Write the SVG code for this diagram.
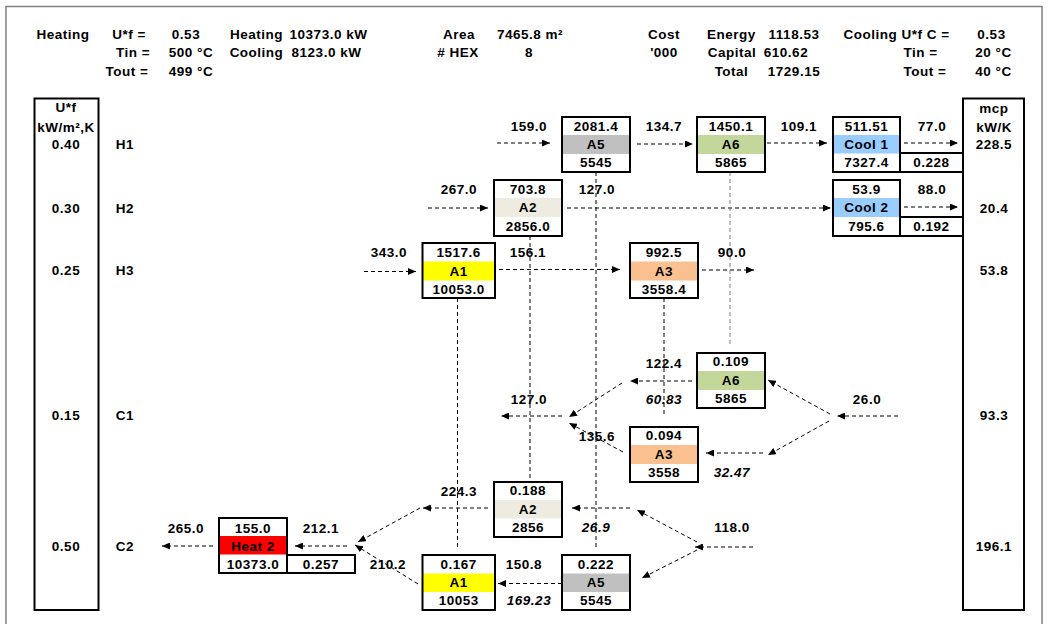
<svg xmlns="http://www.w3.org/2000/svg" width="1049" height="624" viewBox="0 0 1049 624">
<style>
.t{font-family:"Liberation Sans",Arial,sans-serif;font-weight:bold;font-size:13.5px;letter-spacing:0.5px;text-anchor:middle;fill:#000}
.i{font-style:italic}
.bx{fill:none;stroke:#000;stroke-width:2}
.c{fill:none;stroke:#000;stroke-width:1;stroke-dasharray:4 3}
.g{stroke:#808080}
.a{marker-end:url(#ah)}
.gray{fill:#C0C0C0}.green{fill:#C4D79B}.beige{fill:#EEECE1}.yel{fill:#FFFF00}.peach{fill:#FAC090}.blue{fill:#99CCFF}.red{fill:#FF0000}
</style>
<defs>
<marker id="ah" markerUnits="userSpaceOnUse" markerWidth="8" markerHeight="7" refX="8" refY="3.5" orient="auto"><path d="M0,0L8,3.5L0,7z" fill="#000"/></marker>
</defs>
<rect x="0" y="0" width="1049" height="624" fill="#fff"/>
<rect x="6" y="6.5" width="1036" height="630" fill="none" stroke="#808080" stroke-width="1.5"/>

<g id="header" class="t">
<text x="63" y="39">Heating</text>
<text x="129" y="39">U*f =</text>
<text x="186" y="39">0.53</text>
<text x="256.5" y="39">Heating</text>
<text x="328.5" y="39">10373.0 kW</text>
<text x="459" y="39">Area</text>
<text x="530" y="39">7465.8 m²</text>
<text x="664" y="39">Cost</text>
<text x="731.5" y="39">Energy</text>
<text x="794" y="39">1118.53</text>
<text x="896.5" y="39">Cooling U*f C =</text>
<text x="991.5" y="39">0.53</text>
<text x="133" y="57">Tin =</text>
<text x="191" y="57">500 °C</text>
<text x="256.5" y="57">Cooling</text>
<text x="326.5" y="57">8123.0 kW</text>
<text x="458" y="57"># HEX</text>
<text x="529" y="57">8</text>
<text x="664" y="57">'000</text>
<text x="732" y="57">Capital</text>
<text x="786" y="57">610.62</text>
<text x="920.5" y="57">Tin =</text>
<text x="993.5" y="57">20 °C</text>
<text x="127" y="75.5">Tout =</text>
<text x="191" y="75.5">499 °C</text>
<text x="731.5" y="75.5">Total</text>
<text x="794" y="75.5">1729.15</text>
<text x="925" y="75.5">Tout =</text>
<text x="993.5" y="75.5">40 °C</text>
</g>

<g id="ufColumn">
<rect class="bx" x="34.5" y="98.5" width="64" height="511.5"/>
<g class="t">
<text x="66" y="111.5">U*f</text>
<text x="66" y="131.5">kW/m²,K</text>
<text x="66" y="148.7">0.40</text>
<text x="66" y="212.7">0.30</text>
<text x="66" y="274.7">0.25</text>
<text x="66" y="419.7">0.15</text>
<text x="66" y="550.5">0.50</text>
<text x="125" y="148.7">H1</text>
<text x="125" y="212.7">H2</text>
<text x="125" y="274.7">H3</text>
<text x="125" y="419.7">C1</text>
<text x="125" y="550.5">C2</text>
</g>
</g>

<g id="mcpColumn">
<rect class="bx" x="963" y="98.5" width="61" height="511.5"/>
<g class="t">
<text x="994" y="113">mcp</text>
<text x="994" y="131.5">kW/K</text>
<text x="994" y="148.7">228.5</text>
<text x="994" y="212.7">20.4</text>
<text x="994" y="274.7">53.8</text>
<text x="994" y="419.7">93.3</text>
<text x="994" y="550.5">196.1</text>
</g>
</g>

<g id="connectors">
<line class="c a" x1="497" y1="143" x2="550" y2="143"/>
<line class="c a" x1="637" y1="144" x2="693" y2="144"/>
<line class="c a" x1="767" y1="143" x2="827" y2="143"/>
<line class="c a" x1="904" y1="143" x2="958" y2="143"/>
<line class="c a" x1="428" y1="208" x2="488" y2="208"/>
<line class="c a" x1="567" y1="208" x2="831" y2="208"/>
<line class="c a" x1="904" y1="207" x2="958" y2="207"/>
<line class="c a" x1="364" y1="271.5" x2="416" y2="271.5"/>
<line class="c a" x1="499" y1="269.5" x2="620" y2="269.5"/>
<line class="c a" x1="702" y1="270" x2="754" y2="270"/>
<line class="c" x1="596" y1="172" x2="596" y2="548"/>
<line class="c" x1="530" y1="236" x2="530" y2="481"/>
<line class="c" x1="457.5" y1="298" x2="457.5" y2="550"/>
<line class="c" x1="664" y1="298" x2="664" y2="414"/>
<line class="c g" x1="730" y1="172" x2="730" y2="345"/>
<line class="c a" x1="898" y1="416" x2="837" y2="416"/>
<line class="c a" x1="830" y1="414" x2="768" y2="380"/>
<line class="c a" x1="829" y1="421" x2="768" y2="455"/>
<line class="c a" x1="763" y1="453" x2="706" y2="453"/>
<line class="c a" x1="692" y1="381" x2="630" y2="381"/>
<line class="c a" x1="622" y1="383" x2="569" y2="417"/>
<line class="c a" x1="623" y1="452" x2="569" y2="423"/>
<line class="c a" x1="562" y1="416" x2="501" y2="416"/>
<line class="c a" x1="753" y1="547" x2="695" y2="547"/>
<line class="c a" x1="697" y1="542" x2="637" y2="510"/>
<line class="c a" x1="697" y1="550" x2="642" y2="578"/>
<line class="c a" x1="630" y1="508" x2="572" y2="508"/>
<line class="c a" x1="562" y1="583.5" x2="498" y2="583.5"/>
<line class="c a" x1="488" y1="508" x2="423" y2="508"/>
<line class="c a" x1="420" y1="508" x2="358" y2="542"/>
<line class="c a" x1="418" y1="584" x2="355" y2="545"/>
<line class="c a" x1="347" y1="546" x2="295" y2="546"/>
<line class="c a" x1="213" y1="546" x2="162" y2="546"/>
</g>

<g id="labels" class="t">
<text x="529" y="130.7">159.0</text>
<text x="664" y="130.7">134.7</text>
<text x="799" y="130.7">109.1</text>
<text x="932" y="130.7">77.0</text>
<text x="459" y="193.7">267.0</text>
<text x="597" y="193.7">127.0</text>
<text x="932" y="193.7">88.0</text>
<text x="389" y="256.7">343.0</text>
<text x="528" y="256.7">156.1</text>
<text x="732" y="256.7">90.0</text>
<text x="664" y="367.5">122.4</text>
<text class="i" x="664" y="404">60.83</text>
<text x="529" y="404">127.0</text>
<text x="867" y="404">26.0</text>
<text x="597" y="440.5">135.6</text>
<text class="i" x="732" y="477">32.47</text>
<text x="459" y="495.5">224.3</text>
<text class="i" x="596" y="531.5">26.9</text>
<text x="732" y="532">118.0</text>
<text x="186" y="532.5">265.0</text>
<text x="321" y="532.5">212.1</text>
<text x="388" y="569">210.2</text>
<text x="524" y="569">150.8</text>
<text class="i" x="529" y="604.7">169.23</text>
</g>

<g id="A5-top">
<rect class="gray" x="562" y="135" width="68" height="19"/>
<rect class="bx" x="562" y="117" width="68" height="55"/>
<g class="t"><text x="596" y="130.7">2081.4</text><text x="596" y="149">A5</text><text x="596" y="166.5">5545</text></g>
</g>
<g id="A6-top">
<rect class="green" x="697" y="135" width="68" height="19"/>
<rect class="bx" x="697" y="117" width="68" height="55"/>
<g class="t"><text x="731" y="130.7">1450.1</text><text x="731" y="149">A6</text><text x="731" y="166.5">5865</text></g>
</g>
<g id="Cool1">
<rect class="blue" x="833" y="135" width="67" height="18.5"/>
<rect class="bx" x="833" y="117" width="67" height="55"/>
<rect class="bx" x="900" y="153" width="63" height="19"/>
<g class="t"><text x="866.5" y="130.7">511.51</text><text x="866.5" y="149">Cool 1</text><text x="866.5" y="166.5">7327.4</text><text x="931.5" y="166.5">0.228</text></g>
</g>
<g id="Cool2">
<rect class="blue" x="833" y="198" width="67" height="19"/>
<rect class="bx" x="833" y="180" width="67" height="56"/>
<rect class="bx" x="900" y="217" width="63" height="19"/>
<g class="t"><text x="866.5" y="193.7">53.9</text><text x="866.5" y="212.4">Cool 2</text><text x="866.5" y="230.7">795.6</text><text x="931.5" y="230.7">0.192</text></g>
</g>
<g id="A2-top">
<rect class="beige" x="494" y="198" width="68" height="19"/>
<rect class="bx" x="494" y="180" width="68" height="56"/>
<g class="t"><text x="528" y="193.7">703.8</text><text x="528" y="212.4">A2</text><text x="528" y="230.7">2856.0</text></g>
</g>
<g id="A1-top">
<rect class="yel" x="422.5" y="261.5" width="72.5" height="19"/>
<rect class="bx" x="422.5" y="243" width="72.5" height="55"/>
<g class="t"><text x="458.7" y="256.7">1517.6</text><text x="458.7" y="275.5">A1</text><text x="458.7" y="293.5">10053.0</text></g>
</g>
<g id="A3-top">
<rect class="peach" x="630" y="261.5" width="68" height="19"/>
<rect class="bx" x="630" y="243" width="68" height="55"/>
<g class="t"><text x="664" y="256.7">992.5</text><text x="664" y="275.5">A3</text><text x="664" y="293.5">3558.4</text></g>
</g>
<g id="A6-bottom">
<rect class="green" x="697" y="371" width="68" height="19"/>
<rect class="bx" x="697" y="353" width="68" height="55"/>
<g class="t"><text x="731" y="366.4">0.109</text><text x="731" y="384.7">A6</text><text x="731" y="403">5865</text></g>
</g>
<g id="A3-bottom">
<rect class="peach" x="630" y="445" width="68" height="19"/>
<rect class="bx" x="630" y="427" width="68" height="55"/>
<g class="t"><text x="664" y="440.4">0.094</text><text x="664" y="458.7">A3</text><text x="664" y="476.7">3558</text></g>
</g>
<g id="A2-bottom">
<rect class="beige" x="494" y="500" width="68" height="18.5"/>
<rect class="bx" x="494" y="482" width="68" height="55"/>
<g class="t"><text x="528" y="495.4">0.188</text><text x="528" y="513.7">A2</text><text x="528" y="532">2856</text></g>
</g>
<g id="A1-bottom">
<rect class="yel" x="422.5" y="573.5" width="72.5" height="18.5"/>
<rect class="bx" x="422.5" y="555" width="72.5" height="55"/>
<g class="t"><text x="458.7" y="569">0.167</text><text x="458.7" y="587.4">A1</text><text x="458.7" y="604.7">10053</text></g>
</g>
<g id="A5-bottom">
<rect class="gray" x="562" y="573.5" width="68" height="18.5"/>
<rect class="bx" x="562" y="555" width="68" height="55"/>
<g class="t"><text x="596" y="569">0.222</text><text x="596" y="587.4">A5</text><text x="596" y="604.7">5545</text></g>
</g>
<g id="Heat2">
<rect class="red" x="219" y="536" width="68" height="18.5"/>
<rect class="bx" x="219" y="518" width="68" height="55"/>
<rect class="bx" x="287" y="555" width="68" height="18"/>
<g class="t"><text x="253" y="532.5">155.0</text><text x="253" y="550.5">Heat 2</text><text x="253" y="569">10373.0</text><text x="321" y="569">0.257</text></g>
</g>
</svg>
